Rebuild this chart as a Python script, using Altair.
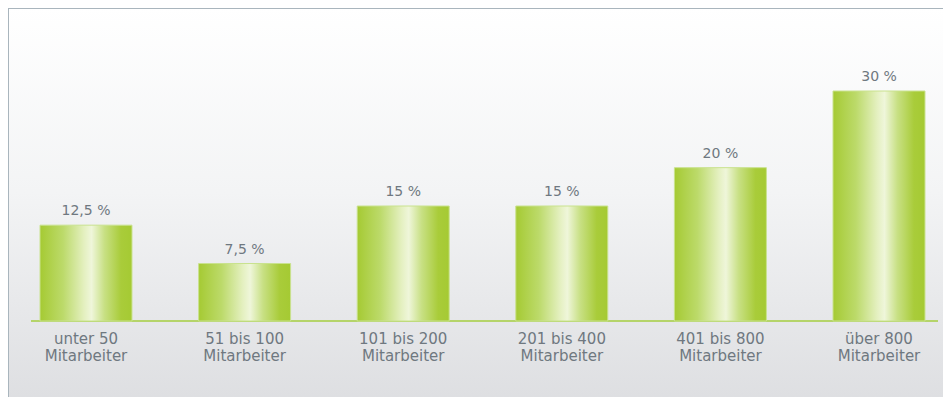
import altair as alt
import pandas as pd

categories = ["unter 50\nMitarbeiter", "51 bis 100\nMitarbeiter", "101 bis 200\nMitarbeiter",
              "201 bis 400\nMitarbeiter", "401 bis 800\nMitarbeiter", "über 800\nMitarbeiter"]
values = [12.5, 7.5, 15, 15, 20, 30]
value_labels = ["12,5 %", "7,5 %", "15 %", "15 %", "20 %", "30 %"]

W, H = 935, 389

df = pd.DataFrame({"cat": categories, "val": values, "lab": value_labels})
one = pd.DataFrame({"k": [0]})

xscale = alt.Scale(domain=categories, range=[-1.3, 950.3], paddingInner=0.42, paddingOuter=0.21)
yscale = alt.Scale(domain=[0, 30], range=[313, 83])
X = alt.X("cat:N", scale=xscale, axis=None, sort=categories)

bg = alt.Chart(one).mark_rect(
    color=alt.Gradient(gradient="linear", x1=0, x2=0, y1=0, y2=1,
                       stops=[alt.GradientStop(color="#ffffff", offset=0),
                              alt.GradientStop(color="#f3f4f5", offset=0.45),
                              alt.GradientStop(color="#dcdde0", offset=1)])
).encode(x=alt.value(0), x2=alt.value(W + 20), y=alt.value(0), y2=alt.value(H + 20))

frame_top = alt.Chart(one).mark_rule(color="#a9b5bd", strokeWidth=2).encode(
    x=alt.value(0), x2=alt.value(W + 20), y=alt.value(0))
frame_left = alt.Chart(one).mark_rule(color="#a9b5bd", strokeWidth=2).encode(
    x=alt.value(0), y=alt.value(0), y2=alt.value(H + 20))

baseline = alt.Chart(one).mark_rule(color="#b5d46a", strokeWidth=2).encode(
    x=alt.value(23), x2=alt.value(930), y=alt.value(313))

bars = alt.Chart(df).mark_bar(
    color=alt.Gradient(gradient="linear", x1=0, x2=1, y1=0, y2=0,
                       stops=[alt.GradientStop(color="#a5ca33", offset=0),
                              alt.GradientStop(color="#bcda6a", offset=0.25),
                              alt.GradientStop(color="#e4f0c0", offset=0.48),
                              alt.GradientStop(color="#eff6da", offset=0.56),
                              alt.GradientStop(color="#c8e084", offset=0.7),
                              alt.GradientStop(color="#a9cc3a", offset=0.88),
                              alt.GradientStop(color="#a5ca33", offset=1)]),
    stroke="#c9e28e", strokeWidth=1
).encode(x=X, y=alt.Y("val:Q", scale=yscale, axis=None), y2=alt.value(313))

vlabels = alt.Chart(df).mark_text(
    font="DejaVu Sans", fontSize=14, color="#6f7880", baseline="bottom", dy=-7
).encode(x=X, y=alt.Y("val:Q", scale=yscale, axis=None), text="lab:N")

clabels = alt.Chart(df).mark_text(
    font="DejaVu Sans", fontSize=15, color="#6f7880", baseline="middle",
    lineBreak="\n", lineHeight=17
).encode(x=X, y=alt.value(331), text="cat:N")

chart = alt.layer(bg, frame_top, frame_left, baseline, bars, vlabels, clabels).properties(
    width=W, height=H, padding=0, autosize=alt.AutoSizeParams(type="none")
).configure_view(stroke=None)

chart.save("out.html", embed_options={"renderer": "svg", "actions": False})
